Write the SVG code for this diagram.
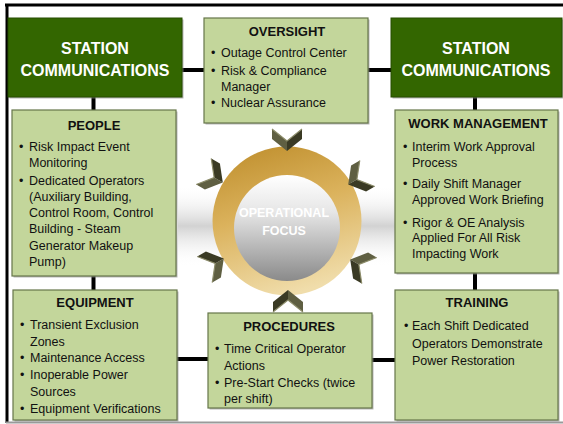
<svg xmlns="http://www.w3.org/2000/svg" width="563" height="424" viewBox="0 0 563 424">
<style>
.dk{fill:#336600;stroke:#264d00;stroke-width:1}
.lt{fill:#c3d69b;stroke:#66764a;stroke-width:1.2}
.sh{fill:#8a8a8a;opacity:0.6}
.hw{font-family:"Liberation Sans",Arial,sans-serif;font-weight:bold;font-size:16px;fill:#ffffff;text-anchor:middle}
.ti{font-family:"Liberation Sans",Arial,sans-serif;font-weight:bold;font-size:13px;fill:#111111;text-anchor:middle}
.tx{font-family:"Liberation Sans",Arial,sans-serif;font-size:12.5px;fill:#111111}
.cn{stroke:#000000;stroke-width:4;fill:none}
.fw{font-family:"Liberation Sans",Arial,sans-serif;font-weight:bold;font-size:12.5px;fill:#ffffff;text-anchor:middle}
</style>
<defs>
<linearGradient id="band" x1="0" y1="0" x2="0" y2="1">
<stop offset="0" stop-color="#ffffff" stop-opacity="0"/>
<stop offset="0.5" stop-color="#d2d2d2"/>
<stop offset="1" stop-color="#ffffff" stop-opacity="0"/>
</linearGradient>
<linearGradient id="gold" x1="0.2" y1="0" x2="0.5" y2="1">
<stop offset="0" stop-color="#c0902f"/>
<stop offset="0.45" stop-color="#dbb25c"/>
<stop offset="1" stop-color="#f0ddab"/>
</linearGradient>
<linearGradient id="gray" x1="0" y1="0" x2="0" y2="1">
<stop offset="0" stop-color="#ffffff"/>
<stop offset="0.35" stop-color="#e6e6e6"/>
<stop offset="1" stop-color="#8a8a8a"/>
</linearGradient>
<g id="chev">
<polygon points="-15,-13 0,-1 0,9 -15,-3" fill="#5f5f42"/>
<polygon points="0,-1 15,-13 15,-3 0,9" fill="#3a3a24"/>
<polyline points="-15,-13 0,-1 15,-13" fill="none" stroke="#8c8c6a" stroke-width="1.2"/>
</g>
</defs>
<rect width="563" height="424" fill="#ffffff"/>
<g id="frame">
<line x1="5" y1="5" x2="563" y2="5" stroke="#000" stroke-width="3"/>
<line x1="7" y1="4" x2="7" y2="423" stroke="#000" stroke-width="3"/>
<line x1="6" y1="422.5" x2="563" y2="422.5" stroke="#9a9a9a" stroke-width="2"/>
</g>
<rect x="178" y="185" width="217" height="82" fill="url(#band)"/>
<g id="connectors">
<line class="cn" x1="182" y1="70" x2="204" y2="70"/>
<line class="cn" x1="368" y1="70" x2="391" y2="70"/>
<line class="cn" x1="93.5" y1="97" x2="93.5" y2="110"/>
<line class="cn" x1="93.5" y1="276" x2="93.5" y2="290"/>
<line class="cn" x1="475" y1="97" x2="475" y2="110"/>
<line class="cn" x1="475" y1="273" x2="475" y2="290"/>
<line class="cn" x1="177" y1="359" x2="208" y2="359"/>
<line class="cn" x1="372" y1="360" x2="395" y2="360"/>
</g>
<g id="focus">
<circle cx="287" cy="221" r="74.5" fill="url(#gold)"/>
<circle cx="287" cy="228" r="53" fill="url(#gray)"/>
<text class="fw" x="284" y="217">OPERATIONAL</text>
<text class="fw" x="284" y="235">FOCUS</text>
<use href="#chev" transform="translate(287,142) rotate(0)"/>
<use href="#chev" transform="translate(356,180) rotate(60)"/>
<use href="#chev" transform="translate(358,264) rotate(120)"/>
<use href="#chev" transform="translate(288,299) rotate(180)"/>
<use href="#chev" transform="translate(216,263) rotate(240)"/>
<use href="#chev" transform="translate(215,178) rotate(300)"/>
</g>
<g id="station-left">
<rect class="sh" x="9.5" y="19.5" width="174" height="79"/>
<rect class="dk" x="8" y="18" width="174" height="79"/>
<text class="hw" x="95" y="54">STATION</text>
<text class="hw" x="95" y="76">COMMUNICATIONS</text>
</g>
<g id="station-right">
<rect class="sh" x="392.5" y="19.5" width="171" height="79"/>
<rect class="dk" x="391" y="18" width="171" height="79"/>
<text class="hw" x="476" y="54">STATION</text>
<text class="hw" x="476" y="76">COMMUNICATIONS</text>
</g>
<g id="oversight">
<rect class="sh" x="205.5" y="19.5" width="164" height="105"/>
<rect class="lt" x="204" y="18" width="164" height="105"/>
<text class="ti" x="287" y="36">OVERSIGHT</text>
<text class="tx" x="211" y="57">•</text><text class="tx" x="221" y="57">Outage Control Center</text>
<text class="tx" x="211" y="75">•</text><text class="tx" x="221" y="75">Risk &amp; Compliance</text>
<text class="tx" x="221" y="91">Manager</text>
<text class="tx" x="211" y="107">•</text><text class="tx" x="221" y="107">Nuclear Assurance</text>
</g>
<g id="people">
<rect class="sh" x="13.5" y="111.5" width="164" height="166"/>
<rect class="lt" x="12" y="110" width="164" height="166"/>
<text class="ti" x="94" y="130">PEOPLE</text>
<text class="tx" x="19" y="151">•</text><text class="tx" x="29" y="151">Risk  Impact Event</text>
<text class="tx" x="29" y="167">Monitoring</text>
<text class="tx" x="19" y="185">•</text><text class="tx" x="29" y="185">Dedicated Operators</text>
<text class="tx" x="29" y="201">(Auxiliary Building,</text>
<text class="tx" x="29" y="217">Control Room, Control</text>
<text class="tx" x="29" y="233">Building - Steam</text>
<text class="tx" x="29" y="250">Generator Makeup</text>
<text class="tx" x="29" y="266">Pump)</text>
</g>
<g id="work-management">
<rect class="sh" x="396.5" y="111.5" width="163" height="163"/>
<rect class="lt" x="395" y="110" width="163" height="163"/>
<text class="ti" x="478" y="128">WORK MANAGEMENT</text>
<text class="tx" x="403" y="151">•</text><text class="tx" x="412" y="151">Interim Work Approval</text>
<text class="tx" x="412" y="167">Process</text>
<text class="tx" x="403" y="188">•</text><text class="tx" x="412" y="188">Daily Shift Manager</text>
<text class="tx" x="412" y="204">Approved Work  Briefing</text>
<text class="tx" x="403" y="227">•</text><text class="tx" x="412" y="227">Rigor &amp; OE Analysis</text>
<text class="tx" x="412" y="242">Applied For All Risk</text>
<text class="tx" x="412" y="258">Impacting Work</text>
</g>
<g id="equipment">
<rect class="sh" x="14.5" y="291.5" width="164" height="130"/>
<rect class="lt" x="13" y="290" width="164" height="130"/>
<text class="ti" x="95" y="307">EQUIPMENT</text>
<text class="tx" x="20" y="329">•</text><text class="tx" x="30" y="329">Transient Exclusion</text>
<text class="tx" x="30" y="346">Zones</text>
<text class="tx" x="20" y="362">•</text><text class="tx" x="30" y="362">Maintenance Access</text>
<text class="tx" x="20" y="379">•</text><text class="tx" x="30" y="379">Inoperable Power</text>
<text class="tx" x="30" y="396">Sources</text>
<text class="tx" x="20" y="413">•</text><text class="tx" x="30" y="413">Equipment Verifications</text>
</g>
<g id="procedures">
<rect class="sh" x="209.5" y="314.5" width="164" height="95"/>
<rect class="lt" x="208" y="313" width="164" height="95"/>
<text class="ti" x="289" y="331">PROCEDURES</text>
<text class="tx" x="215" y="353">•</text><text class="tx" x="224" y="353">Time Critical Operator</text>
<text class="tx" x="224" y="370">Actions</text>
<text class="tx" x="215" y="387">•</text><text class="tx" x="224" y="387">Pre-Start Checks (twice</text>
<text class="tx" x="224" y="403">per shift)</text>
</g>
<g id="training">
<rect class="sh" x="396.5" y="291.5" width="163" height="130"/>
<rect class="lt" x="395" y="290" width="163" height="130"/>
<text class="ti" x="477" y="307">TRAINING</text>
<text class="tx" x="404" y="330">•</text><text class="tx" x="412" y="330">Each Shift Dedicated</text>
<text class="tx" x="412" y="348">Operators Demonstrate</text>
<text class="tx" x="412" y="365">Power Restoration</text>
</g>
</svg>
